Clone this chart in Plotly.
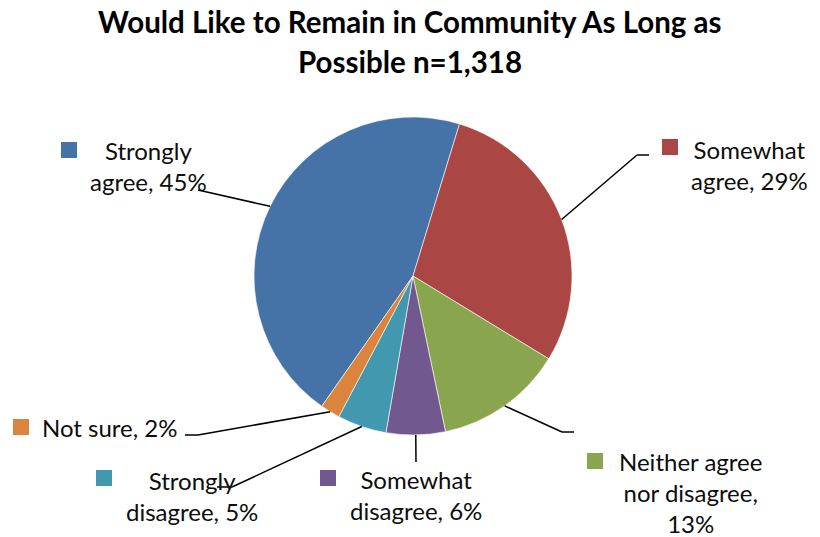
import math
import plotly.graph_objects as go

# Survey responses (percent of respondents)
categories = ["Strongly agree", "Somewhat agree", "Neither agree nor disagree",
              "Somewhat disagree", "Strongly disagree", "Not sure"]
values = [45, 29, 13, 6, 5, 2]
label_text = ["Strongly<br>agree, 45%", "Somewhat<br>agree, 29%",
              "Neither agree<br>nor disagree,<br>13%", "Somewhat<br>disagree, 6%",
              "Strongly<br>disagree, 5%", "Not sure, 2%"]
colors = ["#4572A7", "#AA4643", "#89A54E", "#71588F", "#4198AF", "#DB843D"]

W, H = 820, 537
CX, CY, R = 413, 276, 159
ROTATION = 215  # first slice starts here, degrees clockwise from 12 o'clock

FONT = "Lato"

# label block centres (px), legend-key squares (px), leader-line elbows/ends (px)
label_pos = [(148, 166), (749, 165), (690, 492), (416, 495), (192, 496), (110, 427)]
key_pos = [(61, 142), (662, 139), (587, 453), (320, 470), (96, 470), (13, 419)]
leader_path = [
    [(198, 190)],
    [(637, 155), (649, 155)],
    [(562, 432), (574, 432)],
    [(416, 462)],
    [(232, 487), (217, 487)],
    [(198, 435), (185, 435)],
]


def px(x, y):
    return x / W, 1 - y / H


fig = go.Figure(go.Pie(
    labels=categories,
    values=values,
    sort=False,
    direction="clockwise",
    rotation=ROTATION,
    marker=dict(colors=colors, line=dict(color="white", width=0.6)),
    textinfo="none",
    hoverinfo="label+percent",
    showlegend=False,
    domain=dict(x=[(CX - R) / W, (CX + R) / W], y=[1 - (CY + R) / H, 1 - (CY - R) / H]),
))

shapes = []
annotations = []
total = sum(values)
start = ROTATION
for i, v in enumerate(values):
    sweep = 360 * v / total
    mid = math.radians(start + sweep / 2)
    start += sweep
    # leader line from slice edge at its mid-angle
    pts = [(CX + R * math.sin(mid), CY - R * math.cos(mid))] + leader_path[i]
    for (x0, y0), (x1, y1) in zip(pts[:-1], pts[1:]):
        a0, b0 = px(x0, y0)
        a1, b1 = px(x1, y1)
        shapes.append(dict(type="line", xref="paper", yref="paper",
                           x0=a0, y0=b0, x1=a1, y1=b1,
                           line=dict(color="black", width=1.5)))
    kx, ky = key_pos[i]
    a0, b0 = px(kx, ky)
    a1, b1 = px(kx + 16, ky + 16)
    shapes.append(dict(type="rect", xref="paper", yref="paper",
                       x0=a0, y0=b1, x1=a1, y1=b0,
                       fillcolor=colors[i], line=dict(width=0)))
    lx, ly = label_pos[i]
    ax, ay = px(lx, ly)
    annotations.append(dict(text=label_text[i], x=ax, y=ay, xref="paper", yref="paper",
                            xanchor="center", yanchor="middle", align="center",
                            showarrow=False,
                            font=dict(family=FONT, size=24, color="#0d0d0d")))

title_lines = ["Would Like to Remain in Community As Long as", "Possible n=1,318"]
for text, ty in zip(title_lines, [22, 62]):
    ax, ay = px(410, ty)
    annotations.append(dict(text=f"<b>{text}</b>", x=ax, y=ay, xref="paper", yref="paper",
                            xanchor="center", yanchor="middle", showarrow=False,
                            font=dict(family=FONT, size=29.5, color="black")))

fig.update_layout(
    width=W, height=H,
    margin=dict(l=0, r=0, t=0, b=0),
    paper_bgcolor="white",
    plot_bgcolor="white",
    shapes=shapes,
    annotations=annotations,
)

fig.write_html("out.html")
